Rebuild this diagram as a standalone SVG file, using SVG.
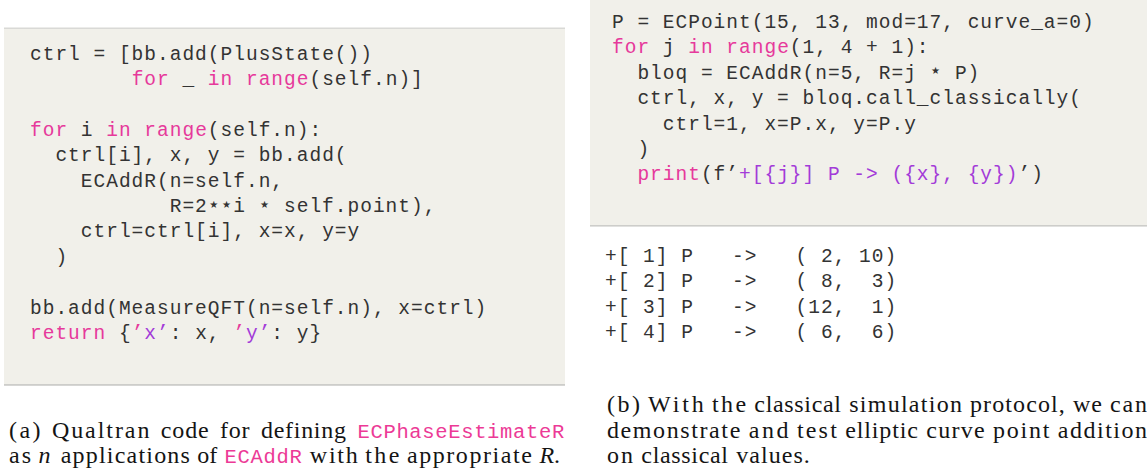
<svg xmlns="http://www.w3.org/2000/svg" width="1147" height="476" viewBox="0 0 1147 476">
  <style>
    .panel { fill: #f1f0ea; }
    .rule-top { fill: #d9d9d6; }
    .rule-bot { fill: #cdcdca; }
    .code { font-family: "Liberation Mono", "DejaVu Sans Mono", monospace; font-size: 19.5px; letter-spacing: 1px; fill: #333333; white-space: pre; }
    .kw { fill: #e6399b; }
    .str { fill: #a33bd8; }
    .star { font-family: "DejaVu Sans", sans-serif; font-size: 20px; text-anchor: middle; }
    .cap { font-family: "Liberation Serif", serif; font-size: 24px; fill: #141414; }
    .it { font-style: italic; }
    .tt { font-family: "Liberation Mono", monospace; font-size: 20.5px; letter-spacing: 0.66px; fill: #ec3a96; }
  </style>

  <!-- (a) listing: ECPhaseEstimateR decomposition -->
  <g id="listing-a">
    <rect class="panel" x="4" y="29" width="561" height="355"/>
    <rect class="rule-top" x="4" y="27.5" width="561" height="1.5"/>
    <rect class="rule-bot" x="4" y="384" width="561" height="1.8"/>
    <g class="code">
      <text xml:space="preserve" x="30" y="59.5">ctrl = [bb.add(PlusState())</text>
      <text xml:space="preserve" x="30" y="84.9">        <tspan class="kw">for</tspan> _ <tspan class="kw">in</tspan> <tspan class="kw">range</tspan>(self.n)]</text>
      <text xml:space="preserve" x="30" y="135.7"><tspan class="kw">for</tspan> i <tspan class="kw">in</tspan> <tspan class="kw">range</tspan>(self.n):</text>
      <text xml:space="preserve" x="30" y="161.1">  ctrl[i], x, y = bb.add(</text>
      <text xml:space="preserve" x="30" y="186.5">    ECAddR(n=self.n,</text>
      <text xml:space="preserve" x="30" y="211.9">           R=2</text>
      <text class="star" x="214.2" y="210.5">⋆</text>
      <text class="star" x="226.9" y="210.5">⋆</text>
      <text x="233.2" y="211.9">i</text>
      <text class="star" x="265" y="210.5">⋆</text>
      <text x="284" y="211.9">self.point),</text>
      <text xml:space="preserve" x="30" y="237.3">    ctrl=ctrl[i], x=x, y=y</text>
      <text xml:space="preserve" x="30" y="262.7">  )</text>
      <text xml:space="preserve" x="30" y="313.5">bb.add(MeasureQFT(n=self.n), x=ctrl)</text>
      <text xml:space="preserve" x="30" y="338.9"><tspan class="kw">return</tspan> {<tspan class="kw">’</tspan><tspan class="str">x’</tspan>: x, <tspan class="kw">’</tspan><tspan class="str">y’</tspan>: y}</text>
    </g>
  </g>

  <!-- (b) listing: classical simulation of ECAddR -->
  <g id="listing-b">
    <rect class="panel" x="590" y="0" width="557" height="225"/>
    <rect class="rule-bot" x="590" y="225" width="557" height="1.6"/>
    <g class="code">
      <text xml:space="preserve" x="612" y="28">P = ECPoint(15, 13, mod=17, curve_a=0)</text>
      <text xml:space="preserve" x="612" y="53.4"><tspan class="kw">for</tspan> j <tspan class="kw">in</tspan> <tspan class="kw">range</tspan>(1, 4 + 1):</text>
      <text xml:space="preserve" x="612" y="78.8">  bloq = ECAddR(n=5, R=j</text>
      <text class="star" x="935.9" y="77.4">⋆</text>
      <text x="954.9" y="78.8">P)</text>
      <text xml:space="preserve" x="612" y="104.2">  ctrl, x, y = bloq.call_classically(</text>
      <text xml:space="preserve" x="612" y="129.6">    ctrl=1, x=P.x, y=P.y</text>
      <text xml:space="preserve" x="612" y="155">  )</text>
      <text xml:space="preserve" x="612" y="180.4">  <tspan class="kw">print</tspan>(f’<tspan class="str">+[{j}] P -&gt; ({x}, {y})</tspan>’)</text>
    </g>
  </g>

  <!-- (b) printed output -->
  <g id="output-b" class="code">
    <text xml:space="preserve" x="605" y="261.5">+[ 1] P   -&gt;   ( 2, 10)</text>
    <text xml:space="preserve" x="605" y="287">+[ 2] P   -&gt;   ( 8,  3)</text>
    <text xml:space="preserve" x="605" y="312.5">+[ 3] P   -&gt;   (12,  1)</text>
    <text xml:space="preserve" x="605" y="338">+[ 4] P   -&gt;   ( 6,  6)</text>
  </g>

  <!-- caption (a), justified word by word -->
  <g id="caption-a" class="cap">
    <text x="9" y="437.5" textLength="31.6" lengthAdjust="spacing">(a)</text>
    <text x="51.9" y="437.5" textLength="97.5" lengthAdjust="spacing">Qualtran</text>
    <text x="160.7" y="437.5" textLength="48" lengthAdjust="spacing">code</text>
    <text x="220" y="437.5" textLength="29.6" lengthAdjust="spacing">for</text>
    <text x="260.9" y="437.5" textLength="85.1" lengthAdjust="spacing">defining</text>
    <text class="tt" x="357.5" y="437.5">ECPhaseEstimateR</text>

    <text x="9" y="463" textLength="22.1" lengthAdjust="spacing">as</text>
    <text class="it" x="38.5" y="463">n</text>
    <text x="60.7" y="463" textLength="129.2" lengthAdjust="spacing">applications</text>
    <text x="197.3" y="463" textLength="19.9" lengthAdjust="spacing">of</text>
    <text class="tt" x="224.6" y="463">ECAddR</text>
    <text x="309.8" y="463" textLength="48" lengthAdjust="spacing">with</text>
    <text x="365.2" y="463" textLength="34.3" lengthAdjust="spacing">the</text>
    <text x="406.9" y="463" textLength="125.1" lengthAdjust="spacing">appropriate</text>
    <text x="539.4" y="463"><tspan class="it">R</tspan>.</text>
  </g>

  <!-- caption (b), justified word by word -->
  <g id="caption-b" class="cap">
    <text x="607" y="412" textLength="33" lengthAdjust="spacing">(b)</text>
    <text x="648.1" y="412" textLength="55.6" lengthAdjust="spacing">With</text>
    <text x="711.9" y="412" textLength="34.3" lengthAdjust="spacing">the</text>
    <text x="754.3" y="412" textLength="86.7" lengthAdjust="spacing">classical</text>
    <text x="849.2" y="412" textLength="112.7" lengthAdjust="spacing">simulation</text>
    <text x="970" y="412" textLength="94.8" lengthAdjust="spacing">protocol,</text>
    <text x="1073" y="412" textLength="28.8" lengthAdjust="spacing">we</text>
    <text x="1109.9" y="412" textLength="37" lengthAdjust="spacing">can</text>

    <text x="607" y="437.5" textLength="133.3" lengthAdjust="spacing">demonstrate</text>
    <text x="748.7" y="437.5" textLength="39.8" lengthAdjust="spacing">and</text>
    <text x="796.9" y="437.5" textLength="39.9" lengthAdjust="spacing">test</text>
    <text x="845.2" y="437.5" textLength="72.7" lengthAdjust="spacing">elliptic</text>
    <text x="926.3" y="437.5" textLength="58.4" lengthAdjust="spacing">curve</text>
    <text x="993.1" y="437.5" textLength="56.3" lengthAdjust="spacing">point</text>
    <text x="1057.8" y="437.5" textLength="89.2" lengthAdjust="spacing">addition</text>

    <text x="607" y="463" textLength="26.1" lengthAdjust="spacing">on</text>
    <text x="641.3" y="463" textLength="86.7" lengthAdjust="spacing">classical</text>
    <text x="736.2" y="463" textLength="73.6" lengthAdjust="spacing">values.</text>
  </g>
</svg>
